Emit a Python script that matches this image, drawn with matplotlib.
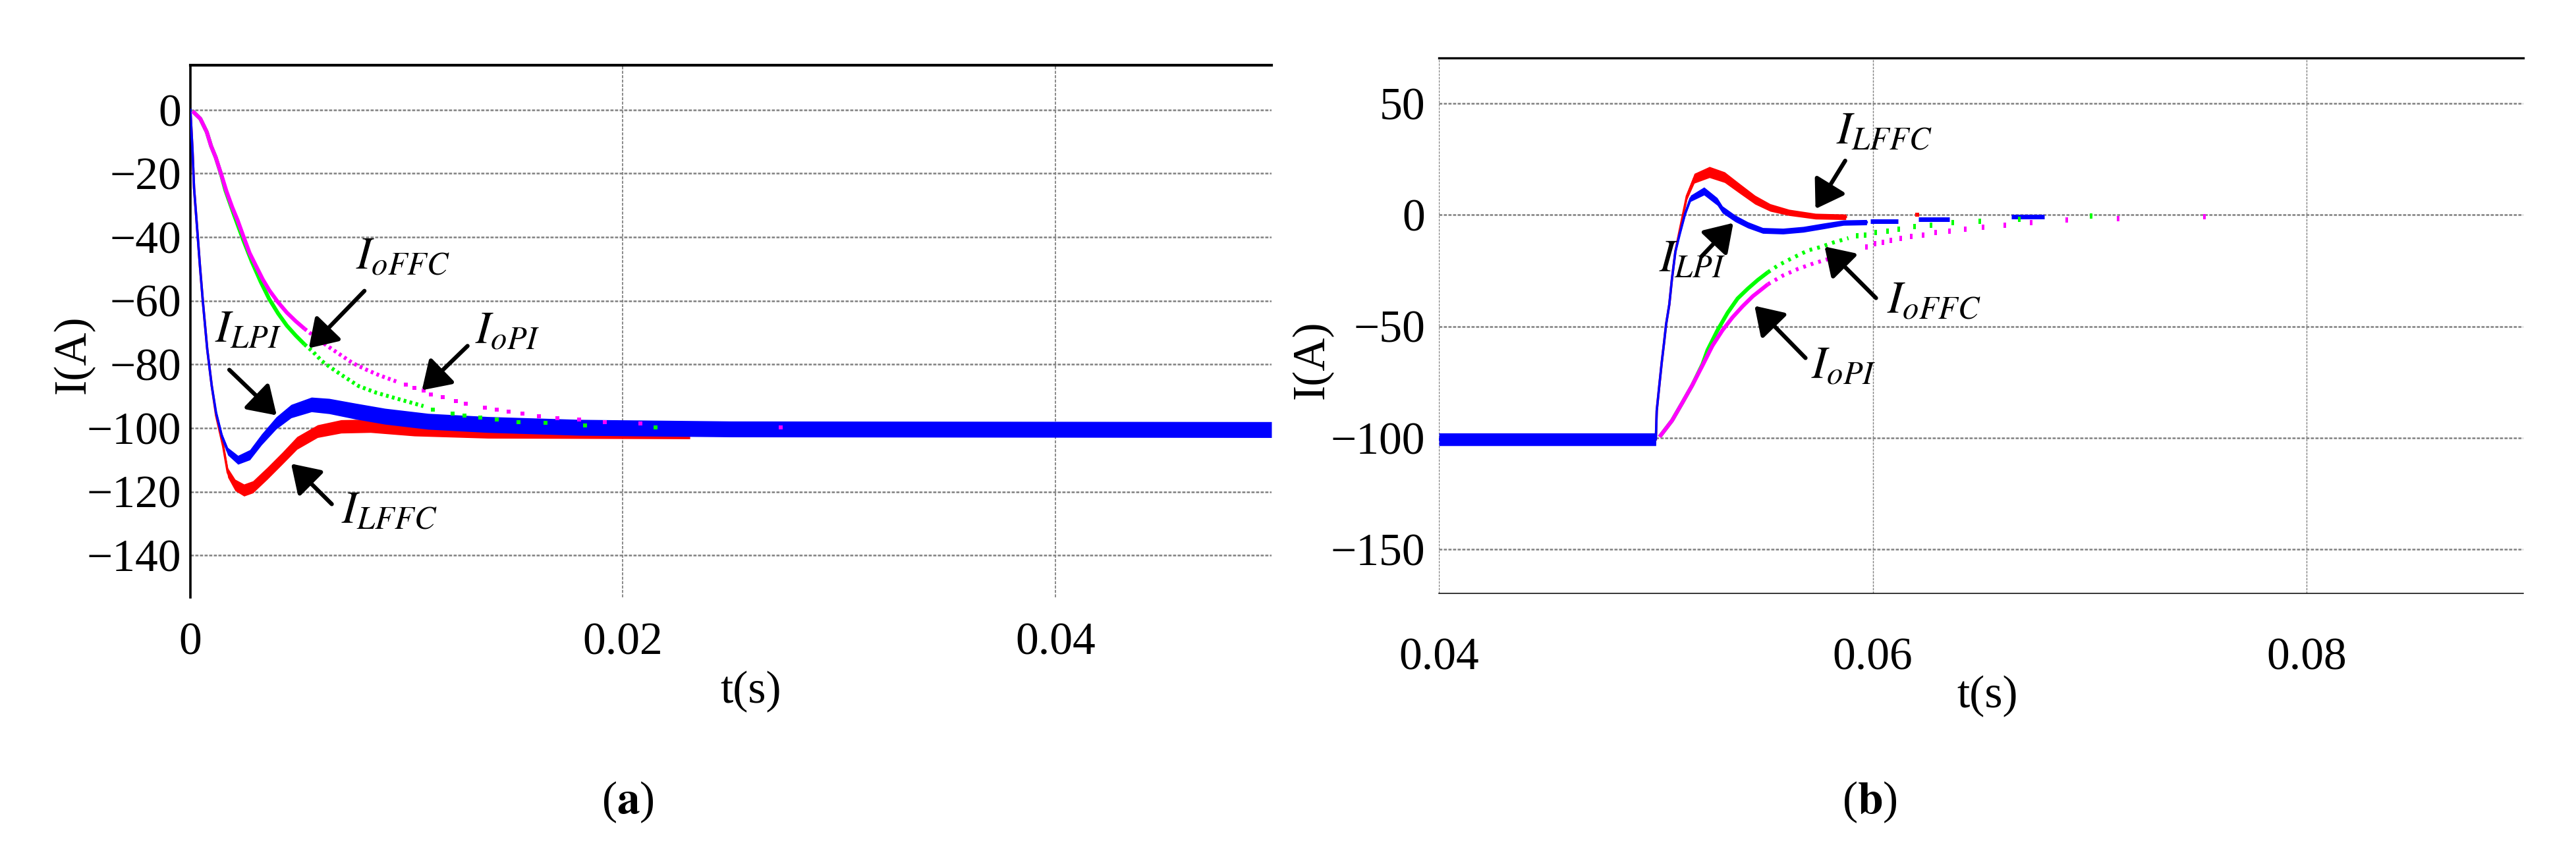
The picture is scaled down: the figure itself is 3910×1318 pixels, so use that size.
import numpy as np
import matplotlib
matplotlib.use('Agg')
import matplotlib.pyplot as plt

plt.rcParams['font.family'] = ['Liberation Serif', 'DejaVu Serif']
plt.rcParams['mathtext.fontset'] = 'stix'
plt.rcParams['axes.unicode_minus'] = True

FS = 50
BLUE, RED, GREEN, MAGENTA = '#0000ff', '#ff0000', '#00ff00', '#ff00ff'

# ---------------- panel (a) data ----------------
a_xticks = [0, 0.02, 0.04]
a_xticklabels = ['0', '0.02', '0.04']
a_yticks = [0, -20, -40, -60, -80, -100, -120, -140]

# I_LPI (blue): centre line and half band width (ripple)
a_lpi_t = [0, 0.0001, 0.00017, 0.0003, 0.00044, 0.00058, 0.00078, 0.00099, 0.00119,
           0.00146, 0.00173, 0.0022, 0.00275, 0.00329, 0.00397, 0.00466, 0.0056,
           0.00642, 0.00764, 0.009, 0.011, 0.01376, 0.018, 0.025, 0.05]
a_lpi_i = [0, -12.9, -24.5, -36.1, -48.8, -60.4, -75.2, -86.8, -95.2,
           -102.6, -107.3, -110.0, -108.4, -103.6, -98.4, -94.7, -92.6,
           -93.1, -94.7, -96.3, -97.9, -98.9, -99.8, -100.3, -100.5]
a_lpi_hw = [0.3, 0.3, 0.3, 0.3, 0.3, 0.4, 0.5, 0.6, 0.8,
            1.0, 1.2, 1.4, 1.6, 1.7, 1.9, 2.1, 2.3,
            2.4, 2.5, 2.5, 2.5, 2.5, 2.5, 2.5, 2.5]

# I_LFFC (red)
a_lffc_t = [0, 0.0001, 0.00017, 0.0003, 0.00044, 0.00058, 0.00078, 0.00099, 0.00119,
            0.00152, 0.00173, 0.00207, 0.00248, 0.00289, 0.00356, 0.00425, 0.00493,
            0.00588, 0.00697, 0.00833, 0.01036, 0.01376, 0.0231]
a_lffc_i = [0, -12.9, -24.5, -36.1, -48.8, -60.4, -75.2, -86.8, -96.0,
            -105.8, -114.0, -117.9, -119.5, -118.5, -114.2, -109.5, -104.7,
            -101.0, -99.5, -99.3, -100.3, -101.0, -101.2]
a_lffc_hw = [0.3, 0.3, 0.3, 0.3, 0.3, 0.4, 0.5, 0.6, 0.8,
             1.2, 1.5, 1.8, 1.9, 1.9, 1.9, 1.9, 2.0,
             2.0, 2.1, 2.1, 2.2, 2.2, 2.2]

# I_oPI (magenta): dense part, dotted part, sparse samples
a_opi_t = [0.0001, 0.00046, 0.00076, 0.00096, 0.00117, 0.00142, 0.00167, 0.00193, 0.00218,
           0.00244, 0.00274, 0.00304, 0.00335, 0.00365, 0.00406, 0.00446, 0.00487, 0.00528]
a_opi_i = [-0.4, -2.8, -7.0, -11.4, -14.9, -20.1, -25.6, -30.5, -34.6,
           -39.5, -45.0, -49.1, -53.3, -56.7, -60.5, -63.7, -66.4, -68.8]
a_opi_mid_t = [0.00528, 0.00568, 0.00629, 0.0069, 0.00751, 0.00812, 0.00873, 0.00954]
a_opi_mid_i = [-68.8, -70.9, -74.0, -76.8, -79.6, -81.6, -83.4, -85.4]
a_opi_dot_t = [0.00995, 0.01037, 0.01078, 0.01111, 0.01166, 0.01227, 0.01274, 0.01362,
               0.01417, 0.01471, 0.01537, 0.01613, 0.01696, 0.01797, 0.01917, 0.0208, 0.0273]
a_opi_dot_i = [-86.3, -87.3, -88.3, -89.4, -90.2, -91.5, -92.4, -93.6,
               -94.2, -94.9, -95.5, -96.3, -96.8, -97.3, -98.1, -98.6, -99.8]

# I_oFFC (green)
a_offc_t = [0.0001, 0.00046, 0.00076, 0.00096, 0.00117, 0.00142, 0.00162, 0.00203, 0.00244,
            0.00284, 0.00325, 0.00365, 0.00406, 0.00446, 0.00487, 0.00528]
a_offc_i = [-0.4, -2.8, -7.0, -11.4, -14.9, -20.3, -25.3, -33.2, -40.8,
            -47.7, -54.0, -59.5, -64.0, -67.8, -70.9, -73.7]
a_offc_mid_t = [0.00528, 0.00568, 0.00609, 0.00649, 0.0071, 0.00778, 0.0086, 0.00968, 0.01078]
a_offc_mid_i = [-73.7, -76.1, -79.0, -81.0, -83.8, -86.8, -88.9, -91.0, -93.1]
a_offc_dot_t = [0.0112, 0.01213, 0.01268, 0.01342, 0.01417, 0.01519, 0.01641,
                0.01825, 0.0215]
a_offc_dot_i = [-94.2, -95.5, -96.1, -96.6, -97.3, -98.1, -98.4,
                -99.1, -99.8]

# annotations (a): label position, arrow tail, arrow tip
a_notes = [
    (r'$I_{oFFC}$', (0.00764, -50.0), (0.00805, -56.9), (0.00548, -74.9)),
    (r'$I_{oPI}$', (0.01315, -73.4), (0.01282, -74.2), (0.01071, -88.1)),
    (r'$I_{LPI}$', (0.00113, -72.9), (0.0018, -81.7), (0.00399, -96.0)),
    (r'$I_{LFFC}$', (0.00697, -129.9), (0.00654, -123.9), (0.00466, -111.2)),
]

# ---------------- panel (b) data ----------------
b_xticks = [0.04, 0.06, 0.08]
b_xticklabels = ['0.04', '0.06', '0.08']
b_yticks = [50, 0, -50, -100, -150]

b_lpi_t = [0.04, 0.05, 0.05004, 0.05016, 0.05027, 0.05038, 0.05047, 0.05062, 0.05074,
           0.0509, 0.0511, 0.05135, 0.0516, 0.05222, 0.05283, 0.05307, 0.05366, 0.05424,
           0.05493, 0.05586, 0.0568, 0.05772, 0.05865, 0.05972]
b_lpi_i = [-100.7, -100.7, -87.9, -76.5, -66.3, -57.2, -49.3, -40.2, -28.9,
           -16.5, -8.6, 0.6, 7.4, 10.7, 6.0, 2.4, -1.6, -4.5,
           -7.0, -7.3, -6.5, -5.0, -3.5, -3.3]
b_lpi_hw = [2.85, 2.85, 0.3, 0.3, 0.3, 0.3, 0.3, 0.3, 0.4,
            0.5, 0.7, 1.0, 1.4, 1.8, 1.7, 1.6, 1.5, 1.4,
            1.3, 1.3, 1.3, 1.3, 1.2, 1.2]
# later blue samples drawn as short dashes: start, end, level
b_lpi_seg_t0 = [0.0599, 0.0621, 0.0664]
b_lpi_seg_t1 = [0.06117, 0.06355, 0.0679]
b_lpi_seg_i = [-2.8, -1.9, -0.9]

b_lffc_t = [0.05, 0.05004, 0.05016, 0.05027, 0.05038, 0.05047, 0.05062, 0.05074,
            0.0509, 0.0511, 0.05143, 0.05177, 0.05247, 0.05317, 0.05387, 0.05457,
            0.05527, 0.05614, 0.05736, 0.05876]
b_lffc_i = [-100.7, -87.9, -76.5, -66.3, -57.2, -49.3, -40.2, -28.9,
            -16.5, -7.0, 8.4, 16.4, 19.2, 16.9, 11.8, 6.8,
            3.3, 1.1, -0.6, -0.9]
b_lffc_hw = [0.3, 0.3, 0.3, 0.3, 0.3, 0.3, 0.3, 0.4,
             0.6, 0.9, 1.6, 2.2, 2.5, 2.4, 2.2, 2.0,
             1.7, 1.4, 1.3, 1.25]
b_lffc_dot_t = [0.06205]
b_lffc_dot_i = [0.0]

b_opi_t = [0.05017, 0.05075, 0.05122, 0.05168, 0.05215, 0.05261, 0.05307, 0.05354,
           0.054, 0.05447, 0.05517]
b_opi_i = [-99.6, -92.2, -84.3, -76.4, -67.6, -58.7, -51.8, -45.9,
           -41.0, -36.5, -31.1]
b_opi_mid_t = [0.05517, 0.05586, 0.05656, 0.05726, 0.05795, 0.05877]
b_opi_mid_i = [-31.1, -27.2, -24.2, -21.8, -19.8, -17.3]
b_opi_dot_t = [0.0597, 0.0601, 0.06047, 0.06083, 0.0613, 0.06176, 0.06233, 0.06289,
               0.06353, 0.06428, 0.0651, 0.06608, 0.0673, 0.06894, 0.0713, 0.0753]
b_opi_dot_i = [-14.4, -12.9, -12.4, -11.4, -10.6, -9.7, -9.0, -8.0,
               -7.2, -6.3, -5.5, -4.5, -3.5, -2.3, -1.8, -0.9]

b_offc_t = [0.05017, 0.05075, 0.05122, 0.05168, 0.05215, 0.05238, 0.05284, 0.05331,
            0.05377, 0.05424, 0.0547, 0.05517]
b_offc_i = [-99.6, -92.2, -84.3, -76.4, -67.0, -60.7, -51.8, -43.9,
            -37.5, -33.1, -29.2, -25.7]
b_offc_mid_t = [0.05517, 0.05563, 0.0561, 0.05656, 0.05703, 0.0576, 0.05818, 0.05853, 0.05888]
b_offc_mid_i = [-25.7, -22.7, -20.3, -18.1, -15.9, -14.4, -12.4, -11.4, -10.4]
b_offc_dot_t = [0.05929, 0.05966, 0.06012, 0.06068, 0.06121, 0.06194, 0.06269, 0.0637,
                0.06492, 0.06676, 0.07008]
b_offc_dot_i = [-9.5, -9.0, -8.0, -7.2, -6.3, -5.3, -4.5, -3.5,
                -2.8, -1.9, -0.6]

b_notes = [
    (r'$I_{LFFC}$', (0.0583, 31.9), (0.05873, 24.3), (0.05736, 2.7)),
    (r'$I_{LPI}$', (0.05014, -25.1), (0.05211, -18.6), (0.05357, -3.6)),
    (r'$I_{oFFC}$', (0.06064, -44.0), (0.06015, -37.3), (0.05778, -14.2)),
    (r'$I_{oPI}$', (0.05715, -73.1), (0.0569, -64.2), (0.05455, -40.8)),
]

# small upright rectangle used for the sparse samples in (b)
TALL = [(-0.32, -0.5), (0.32, -0.5), (0.32, 0.5), (-0.32, 0.5), (-0.32, -0.5)]


def band(ax, t, i, hw, color, z):
    t, i, hw = np.asarray(t), np.asarray(i), np.asarray(hw)
    ax.fill_between(t, i - hw, i + hw, color=color, lw=0, zorder=z)
    ax.plot(t, i, color=color, lw=2.6, zorder=z)


def dotted(ax, t, i, tm, im, td, idd, color, pattern, marker, ms, z):
    ax.plot(t, i, color=color, lw=4.3, solid_capstyle='butt', zorder=z)
    ax.plot(tm, im, color=color, lw=4.3, ls=(0, pattern),
            dash_capstyle='butt', zorder=z)
    ax.plot(td, idd, ls='none', marker=marker, ms=ms, mew=0, color=color, zorder=z)


def notes(ax, items):
    for label, pos, tail, tip in items:
        ax.text(pos[0], pos[1], label, fontsize=FS, ha='left', va='baseline', zorder=6)
        ax.annotate('', xy=tip, xytext=tail,
                    arrowprops=dict(arrowstyle='-|>,head_length=0.85,head_width=0.55',
                                    color='k', lw=4.5, shrinkA=0, shrinkB=0,
                                    mutation_scale=30), zorder=6)


def grid(ax, hlw, vlw):
    ax.set_axisbelow(True)
    ax.yaxis.grid(True, color='#808080', lw=hlw, ls=(0, (1.9, 0.9)))
    ax.xaxis.grid(True, color='#808080', lw=vlw, ls=(0, (2.5, 1.2)))


fig = plt.figure(figsize=(39.1, 13.18), dpi=100)

# ---------------- panel (a) ----------------
ax = fig.add_axes([0.0739, 0.3118, 0.4197, 0.613])
ax.set_xlim(0, 0.05)
ax.set_ylim(-153.2, 14)
grid(ax, 1.8, 1.3)
band(ax, a_lffc_t, a_lffc_i, a_lffc_hw, RED, 2)
band(ax, a_lpi_t, a_lpi_i, a_lpi_hw, BLUE, 3)
dotted(ax, a_offc_t, a_offc_i, a_offc_mid_t, a_offc_mid_i, a_offc_dot_t, a_offc_dot_i,
       GREEN, (0.7, 0.85), 's', 3.8, 4)
dotted(ax, a_opi_t, a_opi_i, a_opi_mid_t, a_opi_mid_i, a_opi_dot_t, a_opi_dot_i,
       MAGENTA, (0.7, 0.85), 's', 3.8, 5)
notes(ax, a_notes)
ax.set_xticks(a_xticks)
ax.set_xticklabels(a_xticklabels)
ax.set_yticks(a_yticks)
ax.tick_params(axis='both', length=0, labelsize=FS)
ax.tick_params(axis='x', pad=27)
ax.tick_params(axis='y', pad=10)
ax.spines['right'].set_visible(False)
ax.spines['bottom'].set_visible(False)
ax.spines['top'].set_linewidth(3)
ax.spines['left'].set_linewidth(2.6)
ax.text(-0.108, 0.457, 'I(A)', transform=ax.transAxes, rotation=90,
        ha='center', va='center', fontsize=FS)
ax.text(0.5186, -0.177, 't(s)', transform=ax.transAxes,
        ha='center', va='center', fontsize=FS)

# ---------------- panel (b) ----------------
ax = fig.add_axes([0.5586, 0.3164, 0.421, 0.6168])
ax.set_xlim(0.04, 0.09)
ax.set_ylim(-169.8, 70.4)
grid(ax, 1.8, 1.0)
band(ax, b_lffc_t, b_lffc_i, b_lffc_hw, RED, 2)
ax.plot(b_lffc_dot_t, b_lffc_dot_i, ls='none', marker='s', ms=5, mew=0, color=RED, zorder=2)
band(ax, b_lpi_t, b_lpi_i, b_lpi_hw, BLUE, 3)
for t0, t1, lv in zip(b_lpi_seg_t0, b_lpi_seg_t1, b_lpi_seg_i):
    ax.plot([t0, t1], [lv, lv], color=BLUE, lw=5, solid_capstyle='butt', zorder=3)
dotted(ax, b_offc_t, b_offc_i, b_offc_mid_t, b_offc_mid_i, b_offc_dot_t, b_offc_dot_i,
       GREEN, (0.7, 1.3), TALL, 5.2, 4)
dotted(ax, b_opi_t, b_opi_i, b_opi_mid_t, b_opi_mid_i, b_opi_dot_t, b_opi_dot_i,
       MAGENTA, (0.7, 1.3), TALL, 5.2, 5)
notes(ax, b_notes)
ax.set_xticks(b_xticks)
ax.set_xticklabels(b_xticklabels)
ax.set_yticks(b_yticks)
ax.tick_params(axis='both', length=0, labelsize=FS)
ax.tick_params(axis='x', pad=48)
ax.tick_params(axis='y', pad=15)
ax.spines['right'].set_visible(False)
ax.spines['left'].set_visible(False)
ax.spines['top'].set_linewidth(2.4)
ax.spines['bottom'].set_linewidth(1.1)
ax.text(-0.1166, 0.4366, 'I(A)', transform=ax.transAxes, rotation=90,
        ha='center', va='center', fontsize=FS)
ax.text(0.506, -0.192, 't(s)', transform=ax.transAxes,
        ha='center', va='center', fontsize=FS)

fig.text(953 / 3910, 1 - 1218 / 1318, r'($\mathbf{a}$)', ha='center', va='center', fontsize=FS)
fig.text(2838 / 3910, 1 - 1218 / 1318, r'($\mathbf{b}$)', ha='center', va='center', fontsize=FS)

fig.savefig('out.png', dpi=100)
